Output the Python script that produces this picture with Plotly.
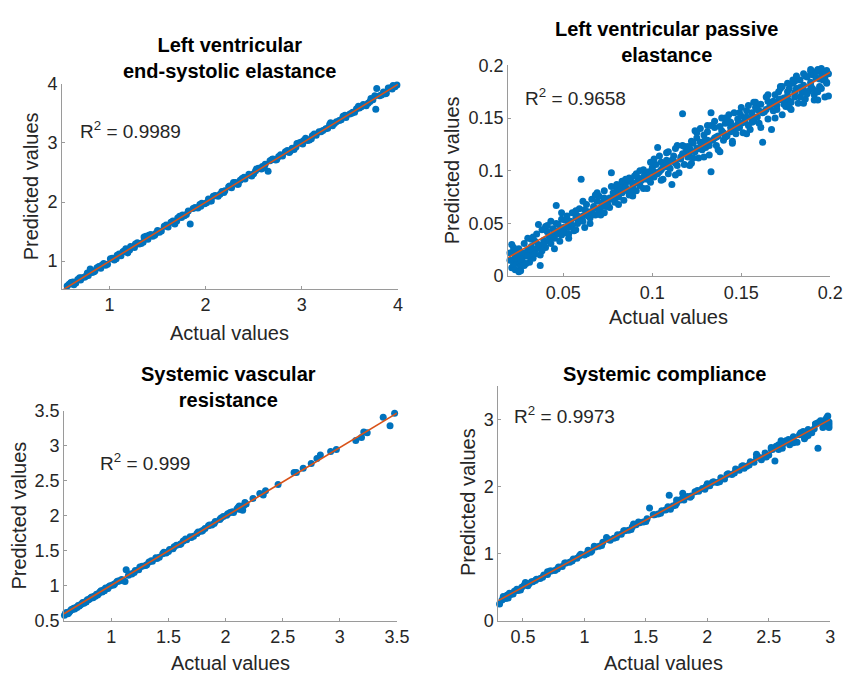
import plotly.graph_objects as go

# ---------------- Data ----------------
titles = ["Left ventricular<br>end-systolic elastance",
          "Left ventricular passive<br>elastance",
          "Systemic vascular<br>resistance",
          "Systemic compliance"]
r2_labels = ["0.9989", "0.9658", "0.999", "0.9973"]

# Panel 1: LV end-systolic elastance
ees_actual = [0.53,0.56,0.60,0.63,0.67,0.70,0.74,0.77,0.80,0.84,
              0.87,0.91,0.94,0.98,1.01,1.05,1.08,1.12,1.15,1.19,
              1.22,1.26,1.29,1.33,1.36,1.40,1.43,1.47,1.50,1.54,
              1.57,1.61,1.64,1.68,1.71,1.75,1.78,1.82,1.84,1.89,
              1.92,1.96,1.99,2.03,2.06,2.10,2.13,2.17,2.20,2.24,
              2.27,2.31,2.34,2.38,2.41,2.45,2.48,2.52,2.55,2.59,
              2.62,2.65,2.69,2.73,2.76,2.80,2.83,2.87,2.90,2.94,
              2.97,3.01,3.04,3.08,3.11,3.15,3.18,3.22,3.25,3.29,
              3.32,3.36,3.39,3.43,3.46,3.50,3.53,3.57,3.60,3.64,
              3.67,3.71,3.74,3.77,3.81,3.85,3.88,3.92,3.95,3.98,
              0.55,0.62,0.71,0.78,0.92,1.10,1.31,1.48,1.66,1.95,
              2.15,2.36,2.58,2.78,3.02,3.20,3.41,3.62,3.78,3.97,
              0.58,0.65,0.69,0.75,0.82,0.89,0.96,1.03,1.07,1.14,
              1.21,1.27,1.35,1.41,1.52,1.59,1.70,1.76,1.80,1.87,
              1.94,2.01,2.08,2.19,2.25,2.33,2.40,2.47,2.53,2.61,
              2.67,2.74,2.85,2.92,2.99,3.06,3.13,3.27,3.34,3.45,
              3.52,3.59,3.69,3.76,3.83,3.90,3.94,3.99,1.38,2.88,
              0.60,0.85,1.17,1.45,1.73,2.05,2.29,2.50,2.70,3.10,
              3.30,3.55,3.72,3.87,2.95]
ees_pred = [0.52,0.58,0.63,0.60,0.69,0.68,0.73,0.80,0.87,0.82,
            0.89,0.88,0.96,0.95,1.04,1.02,1.10,1.09,1.17,1.14,
            1.25,1.23,1.31,1.30,1.41,1.37,1.45,1.44,1.52,1.51,
            1.59,1.58,1.66,1.63,1.73,1.74,1.77,1.85,1.63,1.91,
            1.90,1.98,1.97,2.05,2.02,2.11,2.10,2.18,2.19,2.26,
            2.24,2.33,2.30,2.40,2.39,2.47,2.44,2.53,2.57,2.60,
            2.64,2.52,2.72,2.71,2.77,2.78,2.85,2.84,2.91,2.93,
            3.00,2.98,3.08,3.05,3.12,3.13,3.19,3.21,3.24,3.31,
            3.29,3.36,3.38,3.45,3.43,3.49,3.52,3.58,3.59,3.65,
            3.63,3.70,3.73,3.57,3.80,3.86,3.84,3.93,3.97,4.03,
            0.50,0.65,0.72,0.76,0.93,1.12,1.29,1.47,1.68,1.93,
            2.13,2.37,2.56,2.80,3.04,3.19,3.39,3.61,3.92,3.95,
            0.61,0.63,0.72,0.74,0.81,0.91,0.93,1.05,1.04,1.16,
            1.19,1.29,1.32,1.44,1.49,1.61,1.68,1.78,1.79,1.89,
            1.96,1.99,2.10,2.16,2.27,2.30,2.42,2.45,2.56,2.58,
            2.70,2.72,2.87,2.89,3.01,3.04,3.15,3.25,3.33,3.47,
            3.50,3.62,3.67,3.80,3.81,3.93,3.91,3.98,1.42,2.86,
            0.64,0.84,1.21,1.42,1.76,2.02,2.33,2.48,2.73,3.07,
            3.34,3.52,3.75,3.83,2.99]
ees_fit_x = [0.50, 4.00]
ees_fit_y = [0.50, 3.99]

# Panel 2: LV passive elastance
ep_actual = [0.020,0.021,0.021,0.022,0.023,0.023,0.024,0.025,0.026,0.027,
             0.027,0.028,0.029,0.030,0.030,0.031,0.032,0.033,0.034,0.035,
             0.035,0.036,0.037,0.037,0.038,0.039,0.040,0.041,0.042,0.043,
             0.043,0.044,0.045,0.046,0.046,0.047,0.048,0.049,0.050,0.051,
             0.052,0.053,0.054,0.055,0.056,0.057,0.058,0.059,0.060,0.061,
             0.061,0.062,0.063,0.064,0.065,0.066,0.067,0.068,0.069,0.070,
             0.070,0.071,0.072,0.073,0.074,0.075,0.076,0.077,0.078,0.079,
             0.080,0.081,0.082,0.083,0.084,0.085,0.086,0.087,0.088,0.089,
             0.090,0.091,0.092,0.093,0.094,0.095,0.096,0.097,0.098,0.099,
             0.100,0.101,0.102,0.103,0.104,0.105,0.106,0.107,0.108,0.109,
             0.110,0.111,0.112,0.113,0.114,0.115,0.116,0.117,0.118,0.119,
             0.120,0.121,0.122,0.123,0.124,0.125,0.126,0.127,0.128,0.129,
             0.130,0.131,0.132,0.133,0.133,0.134,0.135,0.136,0.137,0.138,
             0.139,0.140,0.141,0.142,0.143,0.144,0.145,0.146,0.147,0.148,
             0.149,0.150,0.151,0.152,0.153,0.154,0.155,0.156,0.157,0.158,
             0.159,0.160,0.161,0.162,0.163,0.164,0.165,0.166,0.167,0.168,
             0.169,0.170,0.171,0.172,0.173,0.174,0.175,0.176,0.177,0.178,
             0.179,0.180,0.181,0.182,0.183,0.184,0.185,0.186,0.187,0.188,
             0.189,0.190,0.191,0.192,0.193,0.194,0.195,0.196,0.197,0.198,
             0.190,0.192,0.194,0.196,0.198,0.199,0.185,0.180,0.175,0.170,
             0.022,0.024,0.026,0.028,0.031,0.033,0.039,0.044,0.048,0.053,
             0.058,0.063,0.067,0.072,0.076,0.081,0.085,0.089,0.093,0.097,
             0.101,0.105,0.108,0.112,0.116,0.121,0.125,0.128,0.131,0.136,
             0.140,0.144,0.148,0.152,0.156,0.160,0.164,0.168,0.172,0.176,
             0.124,0.127,0.131,0.135,0.139,0.143,0.146,0.150,0.154,0.158,
             0.104,0.108,0.113,0.118,0.122,0.083,0.087,0.091,0.095,0.099,
             0.020,0.022,0.024,0.026,0.028,0.030,0.032,0.034,0.036,0.038,
             0.040,0.042,0.045,0.047,0.049,0.051,0.053,0.055,0.057,0.059,
             0.062,0.064,0.066,0.068,0.071,0.073,0.075,0.078,0.080,0.082,
             0.085,0.088,0.090,0.092,0.095,0.098,0.100,0.103,0.106,0.109,
             0.111,0.114,0.117,0.120,0.123,0.126,0.129,0.132,0.135,0.138,
             0.141,0.144,0.147,0.150,0.153,0.156,0.159,0.162,0.165,0.168,
             0.171,0.174,0.177,0.180,0.183,0.186,0.189,0.192,0.195,0.198,
             0.172,0.176,0.181,0.185,0.189,0.193,0.197,0.183,0.178,0.195,
             0.021,0.025,0.029,0.033,0.037,0.041,0.045,0.049,0.053,0.057,
             0.061,0.065,0.069,0.073,0.077,0.081,0.085,0.089,0.093,0.097,
             0.101,0.105,0.109,0.113,0.117,0.121,0.125,0.129,0.133,0.137,
             0.141,0.145,0.149,0.153,0.157,0.161,0.165,0.169,0.173,0.177,
             0.181,0.185,0.189,0.193,0.197,0.199,0.187,0.191,0.179,0.195]
ep_pred = [0.022,0.008,0.015,0.024,0.006,0.019,0.012,0.026,0.009,0.021,
           0.014,0.031,0.019,0.025,0.036,0.022,0.028,0.017,0.033,0.026,
           0.040,0.049,0.010,0.029,0.044,0.034,0.027,0.042,0.038,0.052,
           0.031,0.045,0.036,0.067,0.050,0.040,0.033,0.054,0.046,0.041,
           0.057,0.046,0.052,0.060,0.043,0.055,0.050,0.064,0.092,0.057,
           0.052,0.046,0.068,0.061,0.055,0.073,0.064,0.058,0.071,0.063,
           0.076,0.058,0.070,0.081,0.066,0.072,0.065,0.098,0.079,0.070,
           0.083,0.075,0.086,0.079,0.072,0.088,0.081,0.077,0.090,0.084,
           0.088,0.081,0.093,0.086,0.091,0.083,0.097,0.092,0.099,0.089,
           0.103,0.094,0.106,0.122,0.099,0.108,0.092,0.104,0.110,0.097,
           0.102,0.087,0.114,0.107,0.124,0.098,0.111,0.154,0.106,0.118,
           0.113,0.121,0.107,0.126,0.118,0.131,0.112,0.127,0.120,0.134,
           0.122,0.137,0.115,0.155,0.099,0.129,0.141,0.124,0.133,0.118,
           0.138,0.129,0.145,0.133,0.147,0.137,0.126,0.142,0.135,0.149,
           0.141,0.152,0.136,0.148,0.157,0.143,0.139,0.155,0.147,0.160,
           0.151,0.145,0.163,0.127,0.156,0.170,0.149,0.161,0.139,0.166,
           0.172,0.158,0.167,0.178,0.153,0.169,0.161,0.175,0.166,0.158,
           0.183,0.170,0.178,0.164,0.186,0.174,0.181,0.168,0.189,0.176,
           0.184,0.191,0.172,0.188,0.167,0.180,0.193,0.186,0.170,0.195,
           0.178,0.194,0.187,0.190,0.183,0.192,0.176,0.185,0.168,0.162,
           0.011,0.017,0.005,0.022,0.013,0.024,0.030,0.038,0.043,0.049,
           0.057,0.059,0.066,0.067,0.074,0.078,0.083,0.087,0.090,0.095,
           0.099,0.101,0.104,0.109,0.113,0.117,0.121,0.126,0.129,0.132,
           0.136,0.141,0.144,0.146,0.150,0.157,0.158,0.163,0.168,0.171,
           0.138,0.140,0.143,0.147,0.150,0.153,0.155,0.160,0.162,0.165,
           0.114,0.117,0.121,0.123,0.128,0.090,0.093,0.097,0.101,0.108,
           0.015,0.027,0.021,0.016,0.010,0.019,0.035,0.021,0.030,0.024,
           0.047,0.033,0.043,0.049,0.039,0.053,0.040,0.048,0.062,0.053,
           0.063,0.057,0.059,0.077,0.065,0.074,0.068,0.073,0.087,0.081,
           0.084,0.080,0.095,0.089,0.094,0.093,0.100,0.097,0.103,0.105,
           0.110,0.105,0.116,0.123,0.112,0.121,0.128,0.124,0.131,0.142,
           0.132,0.146,0.140,0.145,0.151,0.146,0.158,0.155,0.166,0.157,
           0.175,0.163,0.178,0.174,0.179,0.190,0.181,0.176,0.189,0.184,
           0.180,0.183,0.188,0.192,0.194,0.196,0.191,0.170,0.165,0.178,
           0.030,0.004,0.012,0.037,0.020,0.048,0.026,0.060,0.036,0.044,
           0.071,0.050,0.079,0.060,0.085,0.068,0.092,0.076,0.100,0.083,
           0.111,0.091,0.118,0.096,0.124,0.105,0.136,0.113,0.143,0.120,
           0.150,0.128,0.155,0.135,0.165,0.141,0.172,0.150,0.180,0.160,
           0.190,0.164,0.196,0.175,0.188,0.171,0.173,0.167,0.186,0.197]
ep_fit_x = [0.019, 0.200]
ep_fit_y = [0.0175, 0.1935]

# Panel 3: systemic vascular resistance
svr_actual = [0.59,0.61,0.63,0.65,0.67,0.69,0.71,0.73,0.75,0.77,
              0.79,0.81,0.83,0.85,0.87,0.89,0.91,0.93,0.95,0.97,
              0.99,1.01,1.03,1.05,1.07,1.09,1.12,1.13,1.15,1.18,
              1.21,1.24,1.27,1.30,1.33,1.36,1.39,1.42,1.45,1.48,
              1.51,1.54,1.57,1.60,1.63,1.66,1.69,1.72,1.75,1.79,
              1.82,1.85,1.88,1.91,1.95,1.98,2.01,2.04,2.07,2.10,
              2.12,2.15,2.17,2.18,
              0.60,0.64,0.68,0.72,0.76,0.80,0.84,0.88,0.92,0.96,
              2.24,2.30,2.33,2.35,2.46,2.60,2.62,2.68,2.75,2.80,
              2.83,2.92,2.97,3.14,3.19,3.21,3.24,3.38,3.44,3.48,
              0.62,0.66,0.70,0.74,0.78,0.82,0.86,0.90,0.94,0.98,
              1.02,1.06,1.10,1.16,1.20,1.25,1.31,1.35,1.40,1.46,
              1.50,1.55,1.61,1.65,1.70,1.76,1.80,1.86,1.90,1.96,
              2.02,2.06,2.11,2.16,2.13]
svr_pred = [0.58,0.62,0.62,0.66,0.68,0.69,0.72,0.73,0.76,0.77,
            0.80,0.81,0.84,0.85,0.88,0.89,0.93,0.94,0.97,0.96,
            1.00,1.01,1.03,1.06,1.07,1.09,1.06,1.23,1.15,1.17,
            1.22,1.23,1.28,1.29,1.34,1.35,1.40,1.41,1.46,1.47,
            1.52,1.53,1.58,1.59,1.64,1.66,1.70,1.71,1.75,1.78,
            1.82,1.86,1.87,1.92,1.95,1.99,2.01,2.05,2.05,2.10,
            2.14,2.08,2.19,2.17,
            0.61,0.64,0.67,0.71,0.75,0.80,0.83,0.87,0.91,0.96,
            2.25,2.32,2.30,2.36,2.45,2.62,2.62,2.68,2.75,2.82,
            2.87,2.92,2.95,3.08,3.12,3.20,3.19,3.41,3.29,3.47,
            0.60,0.66,0.69,0.74,0.77,0.83,0.85,0.91,0.93,0.99,
            1.01,1.07,1.08,1.17,1.19,1.27,1.30,1.36,1.39,1.48,
            1.49,1.56,1.60,1.67,1.69,1.77,1.79,1.87,1.89,1.97,
            2.03,2.06,2.12,2.15,2.09]
svr_fit_x = [0.586, 3.50]
svr_fit_y = [0.60, 3.47]

# Panel 4: systemic compliance
sc_actual = [0.31,0.34,0.37,0.40,0.43,0.46,0.49,0.52,0.55,0.58,
             0.61,0.64,0.67,0.70,0.73,0.76,0.79,0.82,0.85,0.88,
             0.91,0.94,0.97,1.00,1.03,1.06,1.09,1.12,1.15,1.18,
             1.21,1.24,1.27,1.30,1.33,1.36,1.39,1.42,1.45,1.48,
             1.51,1.53,1.57,1.60,1.63,1.66,1.69,1.72,1.75,1.78,
             1.81,1.84,1.87,1.90,1.93,1.96,1.99,2.02,2.05,2.08,
             2.11,2.14,2.17,2.20,2.23,2.26,2.29,2.32,2.35,2.38,
             2.41,2.44,2.47,2.50,2.53,2.55,2.58,2.61,2.64,2.67,
             2.70,2.73,2.76,2.79,2.82,2.85,2.88,2.90,2.93,2.96,
             2.98,2.99,
             2.40,2.48,2.56,2.62,2.70,2.78,2.84,2.90,2.95,2.99,
             1.75,1.80,2.60,2.75,2.97,
             0.33,0.36,0.39,0.42,0.45,0.48,0.51,0.54,0.57,0.60,
             0.66,0.72,0.78,0.84,0.90,0.96,1.02,1.08,1.14,1.20,
             1.26,1.32,1.38,1.44,1.50,1.56,1.62,1.68,1.74,1.80,
             1.86,1.92,1.98,2.04,2.10,2.16,2.22,2.28,2.34,2.40,
             2.46,2.52,2.58,2.64,2.70,2.76,2.82,2.88,2.94,2.97,
             0.38,0.70,1.05,1.40,1.70,2.00,2.30,2.52,2.66,2.80,
             2.92,2.87,2.99]
sc_pred = [0.25,0.36,0.38,0.39,0.44,0.45,0.50,0.57,0.55,0.58,
           0.62,0.63,0.68,0.69,0.74,0.75,0.80,0.81,0.86,0.87,
           0.92,0.93,0.99,0.98,1.05,1.04,1.10,1.11,1.17,1.24,
           1.20,1.23,1.28,1.29,1.34,1.35,1.40,1.43,1.46,1.47,
           1.52,1.68,1.58,1.59,1.64,1.65,1.87,1.71,1.75,1.80,
           1.80,1.85,1.86,1.92,1.93,1.97,2.00,2.01,2.07,2.06,
           2.13,2.11,2.19,2.18,2.26,2.24,2.31,2.30,2.37,2.36,
           2.45,2.40,2.50,2.47,2.55,2.38,2.62,2.57,2.67,2.62,
           2.74,2.66,2.79,2.71,2.85,2.80,2.93,2.57,2.97,2.91,
           3.05,2.92,
           2.48,2.44,2.60,2.64,2.67,2.82,2.82,2.95,2.98,2.88,
           1.80,1.90,2.68,2.77,3.00,
           0.31,0.33,0.41,0.40,0.47,0.46,0.53,0.52,0.58,0.60,
           0.65,0.74,0.77,0.86,0.89,0.97,1.00,1.11,1.12,1.21,
           1.24,1.34,1.36,1.47,1.48,1.58,1.60,1.70,1.72,1.83,
           1.84,1.94,1.96,2.06,2.07,2.18,2.20,2.30,2.32,2.43,
           2.44,2.56,2.55,2.68,2.65,2.80,2.76,2.93,2.88,3.02,
           0.34,0.73,1.02,1.44,1.66,2.04,2.27,2.58,2.70,2.74,
           2.98,2.86,2.96]
sc_fit_x = [0.30, 3.00]
sc_fit_y = [0.30, 3.00]

# ---------------- Figure ----------------
W, H = 859, 690
BLUE = "#0072BD"
ORANGE = "#D95319"
FONT = "Liberation Sans, Arial, sans-serif"
TXT = "#262626"

panels = [
    dict(x=ees_actual, y=ees_pred, fx=ees_fit_x, fy=ees_fit_y,
         px=(63, 404), py=(76, 287), xr=[0.507, 4.0], yr=[0.535, 4.0],
         xt=[1, 2, 3, 4], yt=[1, 2, 3, 4]),
    dict(x=ep_actual, y=ep_pred, fx=ep_fit_x, fy=ep_fit_y,
         px=(516, 843), py=(57, 274), xr=[0.019, 0.2], yr=[0, 0.2],
         xt=[0.05, 0.1, 0.15, 0.2], yt=[0, 0.05, 0.1, 0.15, 0.2]),
    dict(x=svr_actual, y=svr_pred, fx=svr_fit_x, fy=svr_fit_y,
         px=(65, 403), py=(413, 629), xr=[0.586, 3.5], yr=[0.5, 3.5],
         xt=[1, 1.5, 2, 2.5, 3, 3.5], yt=[0.5, 1, 1.5, 2, 2.5, 3, 3.5]),
    dict(x=sc_actual, y=sc_pred, fx=sc_fit_x, fy=sc_fit_y,
         px=(506, 843), py=(387, 629), xr=[0.3, 3.0], yr=[0, 3.5],
         xt=[0.5, 1, 1.5, 2, 2.5, 3], yt=[0, 1, 2, 3]),
]

# text positions (pixels)
title_pos = [(233, 49), (677, 33), (232, 388), (675, 375)]
r2_pos = [(132, 124), (584, 90), (147, 465), (573, 417)]
ylab_pos = [(31, 182), (459, 165), (19, 521), (475, 507)]
xlab_pos = [(233, 333), (679, 316), (234, 673), (674, 673)]

fig = go.Figure()
annotations = []

for i, p in enumerate(panels):
    n = "" if i == 0 else str(i + 1)
    xa, ya = "x" + n, "y" + n
    fig.add_trace(go.Scatter(x=p["x"], y=p["y"], mode="markers",
                             marker=dict(color=BLUE, size=7, line=dict(width=0)),
                             xaxis=xa, yaxis=ya, showlegend=False, cliponaxis=False))
    fig.add_trace(go.Scatter(x=p["fx"], y=p["fy"], mode="lines",
                             line=dict(color=ORANGE, width=1.6),
                             xaxis=xa, yaxis=ya, showlegend=False, cliponaxis=False))
    axcommon = dict(showline=True, linecolor="#9a9a9a", linewidth=1,
                    ticks="inside", ticklen=3, tickcolor="#9a9a9a",
                    showgrid=False, zeroline=False,
                    tickfont=dict(family=FONT, size=18, color=TXT))
    fig.layout["xaxis" + n] = dict(
        domain=[p["px"][0] / W, p["px"][1] / W], range=p["xr"],
        anchor=ya, tickvals=p["xt"], ticktext=["%g" % v for v in p["xt"]],
        **axcommon)
    fig.layout["yaxis" + n] = dict(
        domain=[1 - p["py"][1] / H, 1 - p["py"][0] / H], range=p["yr"],
        anchor=xa, tickvals=p["yt"], ticktext=["%g" % v for v in p["yt"]],
        **axcommon)
    tx, ty = title_pos[i]
    annotations.append(dict(x=tx / W, y=1 - ty / H, xref="paper", yref="paper",
                            text="<b>" + titles[i] + "</b>", showarrow=False,
                            font=dict(family=FONT, size=20, color="#000000"),
                            xanchor="center", yanchor="middle", align="center"))
    rx, ry = r2_pos[i]
    annotations.append(dict(x=rx / W, y=1 - ry / H, xref="paper", yref="paper",
                            text="R<sup>2</sup> = " + r2_labels[i], showarrow=False,
                            font=dict(family=FONT, size=19, color=TXT),
                            xanchor="center", yanchor="middle"))
    lx, ly = ylab_pos[i]
    annotations.append(dict(x=lx / W, y=1 - ly / H, xref="paper", yref="paper",
                            text="Predicted values", showarrow=False, textangle=-90,
                            font=dict(family=FONT, size=20, color=TXT),
                            xanchor="center", yanchor="middle"))
    ax_, ay_ = xlab_pos[i]
    annotations.append(dict(x=ax_ / W, y=1 - ay_ / H, xref="paper", yref="paper",
                            text="Actual values", showarrow=False,
                            font=dict(family=FONT, size=20, color=TXT),
                            xanchor="center", yanchor="middle"))

fig.update_layout(width=W, height=H, margin=dict(l=0, r=0, t=0, b=0),
                  paper_bgcolor="white", plot_bgcolor="white",
                  annotations=annotations, showlegend=False)

fig.write_html("out.html")
